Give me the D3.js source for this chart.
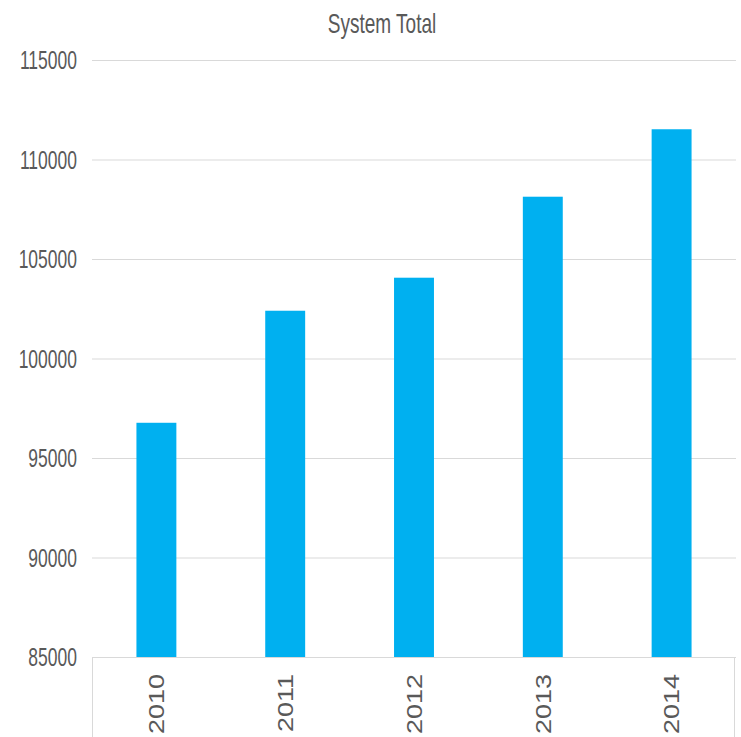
<!DOCTYPE html>
<html>
<head>
<meta charset="utf-8">
<script src="https://cdn.jsdelivr.net/npm/d3@7"></script>
<style>
  html, body { margin: 0; padding: 0; background: #ffffff; }
  svg { display: block; }
  text { font-family: "Liberation Sans", Arial, sans-serif; fill: #595959; }
</style>
</head>
<body>
<svg id="chart" width="741" height="737"></svg>
<script>
const years = ["2010", "2011", "2012", "2013", "2014"];
const totals = [96770, 102400, 104060, 108130, 111520];
const yTicks = [85000, 90000, 95000, 100000, 105000, 110000, 115000];
const chartTitle = "System Total";

const W = 741, H = 737;
const plot = { left: 92, right: 736, top: 60, bottom: 657 };

const svg = d3.select("#chart");

const x = d3.scaleBand()
  .domain(years)
  .range([plot.left, plot.right])
  .paddingInner(0.69)
  .paddingOuter(0.345);

const y = d3.scaleLinear()
  .domain([85000, 115000])
  .range([plot.bottom, plot.top]);

// Gridlines
svg.append("g")
  .selectAll("line")
  .data(yTicks)
  .join("line")
  .attr("x1", plot.left)
  .attr("x2", plot.right)
  .attr("y1", d => y(d) + 0.5)
  .attr("y2", d => y(d) + 0.5)
  .attr("stroke", "#d9d9d9")
  .attr("stroke-width", 1);

// Y tick labels
svg.append("g")
  .selectAll("text")
  .data(yTicks)
  .join("text")
  .attr("transform", d => `translate(77, ${y(d)}) scale(0.7, 1)`)
  .attr("text-anchor", "end")
  .attr("dy", "0.36em")
  .style("font-size", "25px")
  .text(d => d);

// Bars
svg.append("g")
  .selectAll("rect")
  .data(years.map((yr, i) => ({ yr, v: totals[i] })))
  .join("rect")
  .attr("x", d => x(d.yr))
  .attr("width", x.bandwidth())
  .attr("y", d => y(d.v))
  .attr("height", d => y(85000) - y(d.v))
  .attr("fill", "#00b0f0");

// Bottom frame (category axis area)
const frame = svg.append("g").attr("stroke", "#d9d9d9").attr("stroke-width", 1);
frame.append("line")
  .attr("x1", plot.left).attr("x2", plot.right)
  .attr("y1", plot.bottom + 0.5).attr("y2", plot.bottom + 0.5);
frame.append("line")
  .attr("x1", plot.left + 0.5).attr("x2", plot.left + 0.5)
  .attr("y1", plot.bottom).attr("y2", H);
frame.append("line")
  .attr("x1", plot.right - 1.5).attr("x2", plot.right - 1.5)
  .attr("y1", plot.bottom).attr("y2", H);

// X labels (rotated)
svg.append("g")
  .selectAll("text")
  .data(years)
  .join("text")
  .attr("transform", d => `translate(${x(d) + x.bandwidth() / 2}, 674) scale(0.8, 1) rotate(-90)`)
  .attr("text-anchor", "end")
  .attr("dy", "0.36em")
  .style("font-size", "27px")
  .text(d => d);

// Title
svg.append("text")
  .attr("transform", `translate(382, 33) scale(0.68, 1)`)
  .attr("text-anchor", "middle")
  .style("font-size", "28px")
  .text(chartTitle);
</script>
</body>
</html>
